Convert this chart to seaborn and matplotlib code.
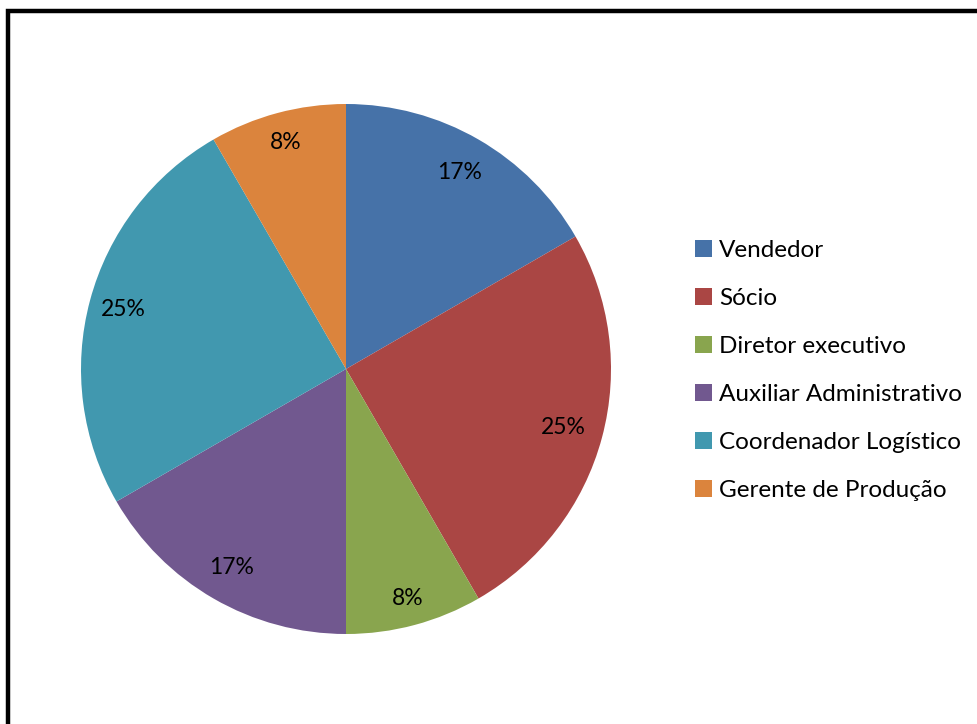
import matplotlib
matplotlib.use("Agg")
import matplotlib.pyplot as plt
from matplotlib.patches import Rectangle
import numpy as np
import seaborn as sns

# Respondent roles (counts) and their slice colours
roles = ["Vendedor", "Sócio", "Diretor executivo", "Auxiliar Administrativo",
         "Coordenador Logístico", "Gerente de Produção"]
counts = [2, 3, 1, 2, 3, 1]
colors = ["#4672A8", "#AA4644", "#89A54E", "#71588F", "#4198AF", "#DB843D"]

sns.set_theme(style="white")
plt.rcParams["font.family"] = ["Lato", "DejaVu Sans"]

W, H = 977, 724
fig = plt.figure(figsize=(W / 100, H / 100), dpi=100)
fig.patch.set_facecolor("white")

# pie axes: centre (346, 369) px, radius 265 px
cx, cy, r = 346, 369, 265
ax = fig.add_axes([(cx - r) / W, (H - cy - r) / H, 2 * r / W, 2 * r / H])
wedges, texts, autotexts = ax.pie(
    counts, colors=colors, startangle=90, counterclock=False,
    autopct=lambda p: f"{p:.0f}%", pctdistance=0.85,
    wedgeprops=dict(linewidth=0),
    textprops=dict(fontsize=16.5, color="#000000"),
)

# nudge each percentage label along its slice bisector
label_radius = [0.855, 0.85, 0.895, 0.865, 0.87, 0.885]
for w, t, rad in zip(wedges, autotexts, label_radius):
    mid = np.deg2rad((w.theta1 + w.theta2) / 2)
    t.set_position((rad * np.cos(mid), rad * np.sin(mid)))

ax.set_xlim(-1, 1)
ax.set_ylim(-1, 1)
ax.set_aspect("equal")
ax.axis("off")

leg = fig.legend(
    wedges, roles, loc="upper left",
    bbox_to_anchor=(695 / W, 1 - 240 / H),
    frameon=False, fontsize=17.5, handlelength=0.68, handleheight=0.68,
    handletextpad=0.32, labelspacing=1.11, borderpad=0, borderaxespad=0,
)
for t in leg.get_texts():
    t.set_color("#000000")

# outer frame (extends past the right and bottom edges)
fig.patches.append(Rectangle((8 / W, -0.05), 1.1, 1 - 10.5 / H + 0.05,
                             transform=fig.transFigure, fill=False,
                             edgecolor="black", linewidth=3.2))

fig.savefig("out.png", dpi=100, facecolor="white")
